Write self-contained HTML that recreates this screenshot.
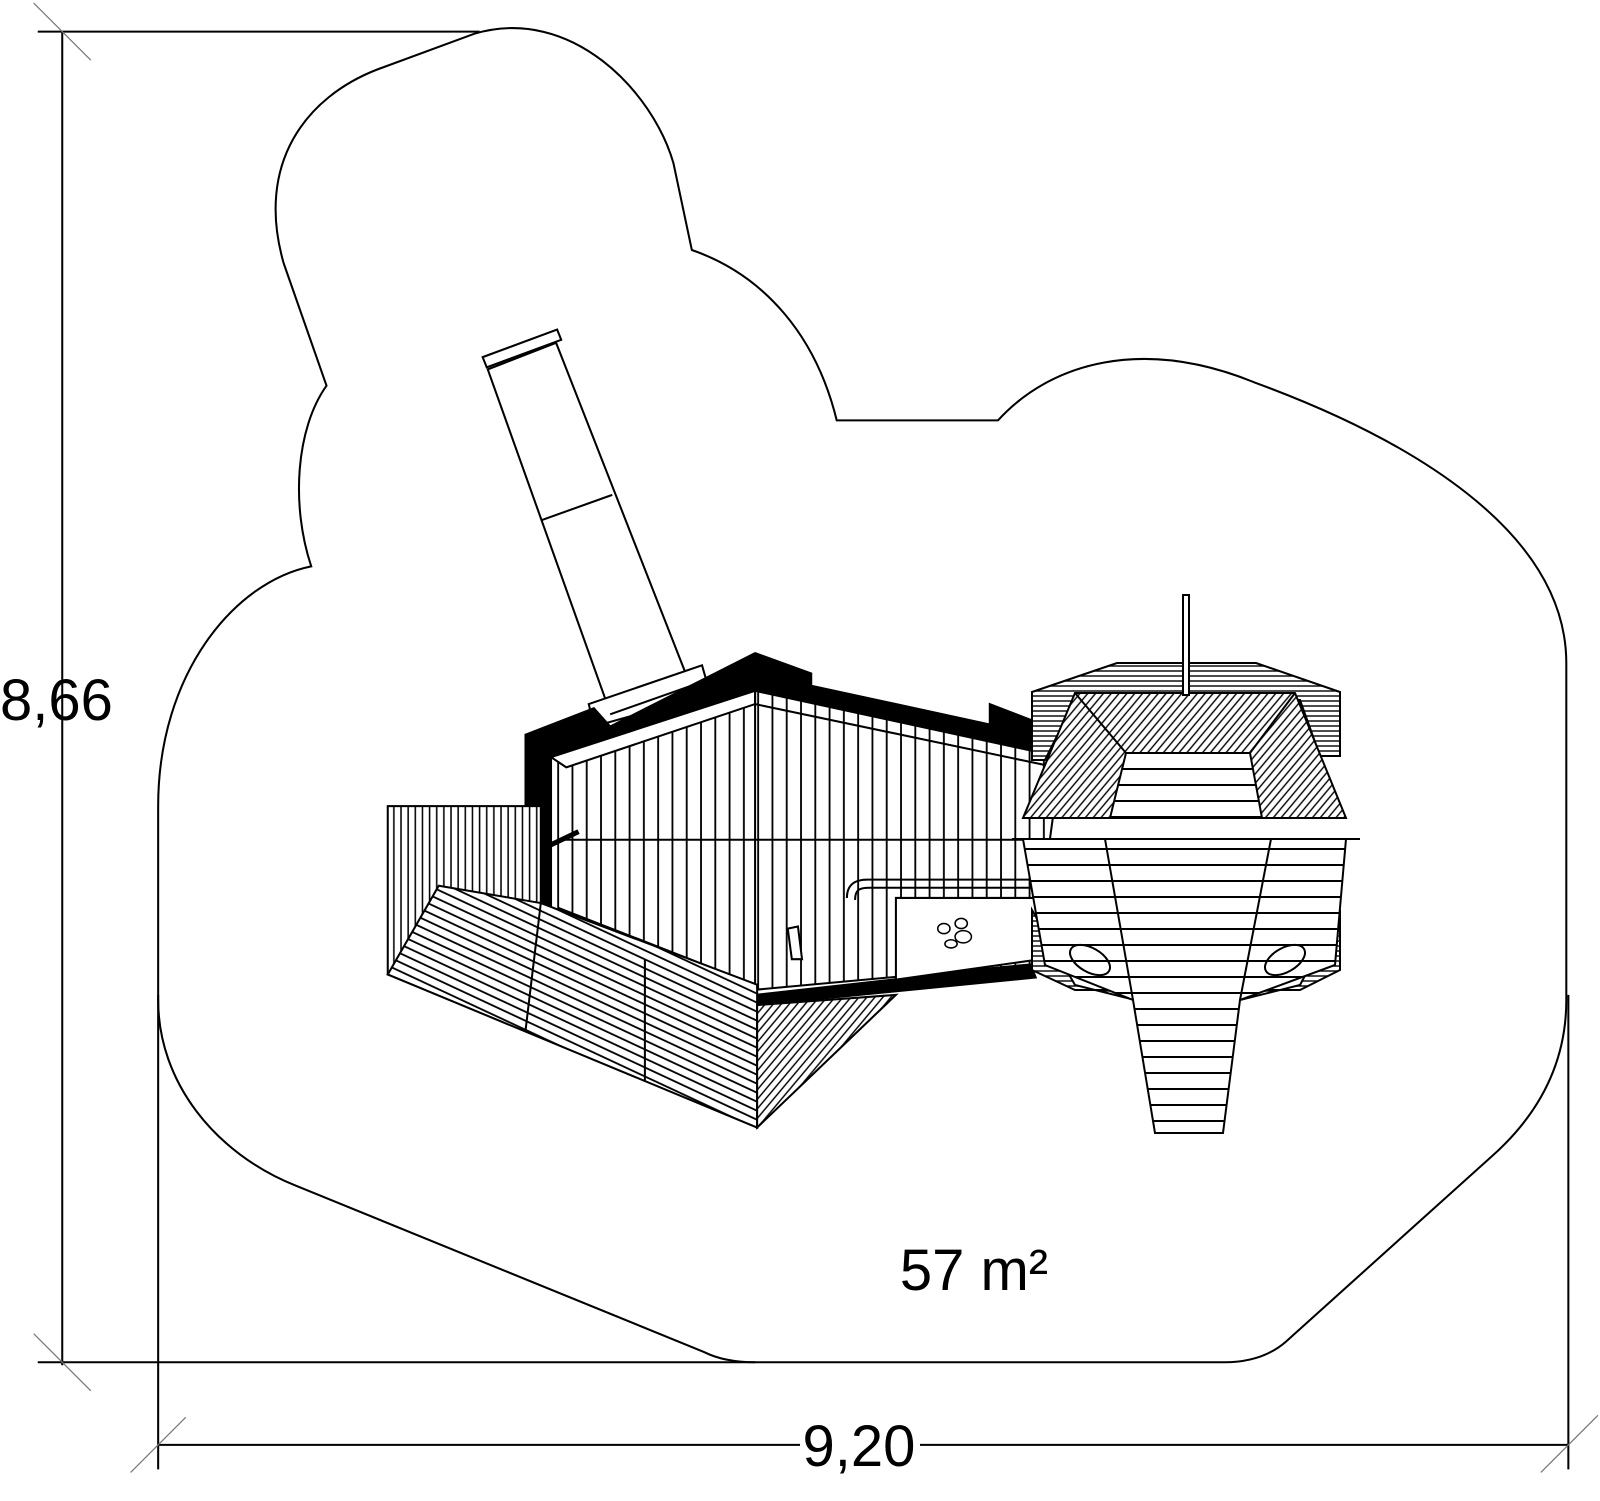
<!DOCTYPE html>
<html><head><meta charset="utf-8"><style>html,body{margin:0;padding:0;background:#fff}svg{display:block}</style></head>
<body>
<svg width="1600" height="1501" viewBox="0 0 1600 1501" xmlns="http://www.w3.org/2000/svg" font-family="Liberation Sans, sans-serif">
<defs>
<pattern id="vs" width="14" height="10" patternUnits="userSpaceOnUse"><rect width="14" height="10" fill="#fff"/><line x1="1" y1="0" x2="1" y2="10" stroke="#000" stroke-width="1.8"/></pattern>
<pattern id="vs2" width="7" height="10" patternUnits="userSpaceOnUse"><rect width="7" height="10" fill="#fff"/><line x1="1" y1="0" x2="1" y2="10" stroke="#000" stroke-width="1.5"/></pattern>
<pattern id="hs" width="10" height="16" patternUnits="userSpaceOnUse"><rect width="10" height="16" fill="#fff"/><line x1="0" y1="1" x2="10" y2="1" stroke="#000" stroke-width="2"/></pattern>
<pattern id="ds" width="8" height="8" patternUnits="userSpaceOnUse" patternTransform="rotate(25)"><rect width="8" height="8" fill="#fff"/><line x1="0" y1="1" x2="8" y2="1" stroke="#000" stroke-width="1.8"/></pattern>
<pattern id="dd" width="6" height="6" patternUnits="userSpaceOnUse" patternTransform="rotate(-50)"><rect width="6" height="6" fill="#fff"/><line x1="0" y1="1" x2="6" y2="1" stroke="#000" stroke-width="1.4"/></pattern>
<pattern id="hr" width="10" height="5" patternUnits="userSpaceOnUse"><rect width="10" height="5" fill="#fff"/><line x1="0" y1="1" x2="10" y2="1" stroke="#000" stroke-width="1.4"/></pattern>
</defs>
<g transform="scale(1.0204)" stroke="#000" fill="none" stroke-width="2">
<path d="M155,980 L155,790 C155,660 230,570 305,555 C285,495 290,420 320,378 L278,258 C250,160 300,95 370,68 L465,33 C560,5 640,90 660,160 L678,245 C750,270 800,330 820,412 L978,412 C1030,355 1120,330 1230,375 C1380,430 1535,520 1535,650 L1535,980 C1535,1050 1500,1100 1460,1135 L1260,1315 C1245,1328 1225,1335 1200,1335 L740,1335 C715,1335 700,1330 690,1325 L290,1162 C210,1130 155,1060 155,980 Z"/>
<line x1="61" y1="31" x2="61" y2="1338"/>
<line x1="37" y1="31" x2="470" y2="31"/>
<line x1="37" y1="1335" x2="740" y2="1335"/>
<line x1="155" y1="975" x2="155" y2="1440"/>
<line x1="1537" y1="975" x2="1537" y2="1440"/>
<line x1="155" y1="1416" x2="1537" y2="1416"/>
<g stroke="#777" stroke-width="1.2">
<line x1="33" y1="3" x2="89" y2="59"/><line x1="33" y1="1307" x2="89" y2="1363"/>
<line x1="128" y1="1443" x2="182" y2="1389"/><line x1="1510" y1="1443" x2="1566" y2="1387"/>
</g>
<polygon points="478,362 545,336 672,660 595,690" fill="#fff"/>
<line x1="530" y1="510" x2="600" y2="485"/>
<polygon points="473,350 546,323 550,333 477,360" fill="#fff"/>
<polygon points="577,690 688,652 696,680 582,712" fill="#fff"/>
<line x1="598" y1="700" x2="683" y2="670"/>
<polygon points="515,720 582,694 598,712 740,640 795,660 795,672 970,710 970,690 1048,720 1040,745 740,682 545,745 540,895 740,975 1010,945 1015,958 740,985 530,905 515,870" fill="#000"/>
<polygon points="540,742 740,677 1040,742 1012,945 740,970 540,895" fill="url(#vs)" stroke-width="2"/>
<polygon points="540,742 740,677 740,690 555,752" fill="#fff"/>
<line x1="740" y1="677" x2="740" y2="970"/>
<line x1="550" y1="823" x2="1010" y2="823"/>
<line x1="740" y1="690" x2="1035" y2="752"/>
<polygon points="548,890 740,965 740,975 545,900" fill="#fff"/>
<polygon points="878,880 1015,880 1020,940 878,960" fill="#fff"/>
<path d="M830,880 C830,865 840,862 850,862 L1012,862" stroke-width="2"/>
<path d="M838,882 C838,872 842,870 852,870 L1012,870"/>
<g stroke-width="1.5"><ellipse cx="925" cy="910" rx="6" ry="5"/><ellipse cx="942" cy="905" rx="6" ry="5"/><ellipse cx="932" cy="925" rx="6" ry="4"/><ellipse cx="944" cy="918" rx="8" ry="6"/></g>
<polygon points="772,910 782,908 786,940 776,940" fill="#fff"/>
<line x1="525" y1="835" x2="567" y2="815" stroke-width="5"/>
<rect x="380" y="790" width="150" height="165" fill="url(#vs2)"/>
<polygon points="380,955 430,868 530,885 742,965 742,1105" fill="url(#ds)" stroke-width="2"/>
<line x1="530" y1="885" x2="515" y2="1010"/>
<line x1="632" y1="940" x2="632" y2="1060"/>
<polygon points="742,985 878,975 742,1105" fill="url(#dd)" stroke-width="2"/>
</g>
<g stroke="#000" fill="none" stroke-width="2">
<polygon points="1032,692 1117,663 1256,663 1340,692 1340,756 1320,756 1300,700 1075,700 1045,760 1032,760" fill="url(#hr)"/>
<polygon points="1032,910 1075,985 1135,1000 1240,1000 1300,985 1340,910 1340,970 1300,990 1075,990 1032,970" fill="url(#hr)"/>
<polygon points="1075,693 1295,693 1346,818 1023,818" fill="url(#dd)"/>
<polygon points="1126,753 1250,753 1262,818 1110,818" fill="url(#hs)"/>
<line x1="1075" y1="693" x2="1126" y2="753"/><line x1="1295" y1="693" x2="1250" y2="753"/>
<line x1="1012" y1="839" x2="1360" y2="839"/>
<polygon points="1023,839 1346,839 1335,965 1240,1000 1223,1133 1155,1133 1133,1000 1045,965" fill="url(#hs)"/>
<line x1="1105" y1="839" x2="1133" y2="1000"/><line x1="1271" y1="839" x2="1240" y2="1000"/>
<ellipse cx="1090" cy="960" rx="22" ry="12" transform="rotate(30 1090 960)"/>
<ellipse cx="1285" cy="960" rx="22" ry="12" transform="rotate(-30 1285 960)"/>
<rect x="1183" y="595" width="6" height="100" fill="#fff"/>
</g>
<rect x="800" y="1436" width="120" height="18" fill="#fff"/>
<g font-size="58" fill="#000">
<text x="0" y="720">8,66</text>
<text x="859" y="1466" text-anchor="middle">9,20</text>
<text x="974" y="1290" text-anchor="middle">57 m²</text>
</g>
</svg>
</body></html>
